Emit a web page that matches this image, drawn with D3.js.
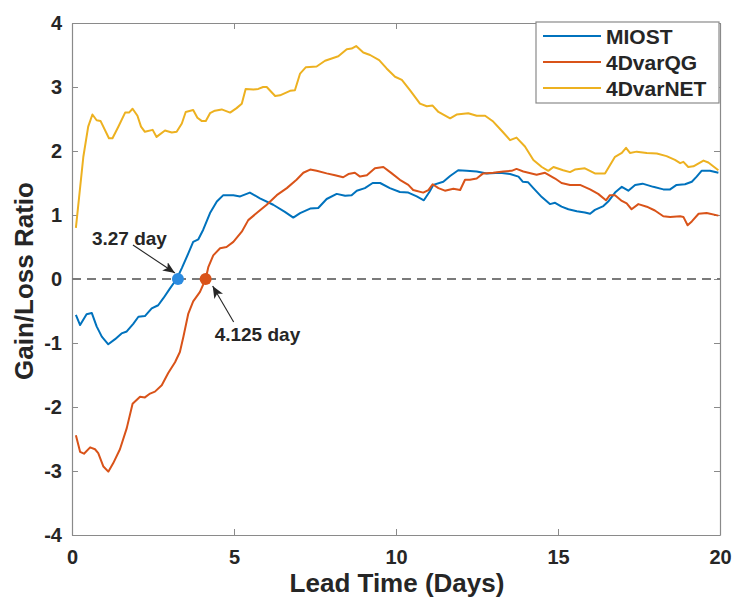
<!DOCTYPE html>
<html>
<head>
<meta charset="utf-8">
<script src="https://cdn.jsdelivr.net/npm/d3@7"></script>
<style>
  body { margin: 0; background: #fff; }
  text { font-family: "Liberation Sans", Arial, Helvetica, sans-serif; font-weight: bold; fill: #262626; }
</style>
</head>
<body>
<div id="chart"></div>
<script>
// axis ticks
const xTicks = [0, 5, 10, 15, 20];
const yTicks = [-4, -3, -2, -1, 0, 1, 2, 3, 4];

// MIOST
const miostDays = [0.12, 0.25, 0.45, 0.61, 0.76, 0.92, 1.12, 1.33, 1.53, 1.69, 1.89, 2.05, 2.25, 2.46, 2.66, 2.82, 3.02, 3.23, 3.39, 3.59, 3.74, 3.9, 4.05, 4.26, 4.47, 4.67, 4.98, 5.19, 5.49, 5.8, 6.21, 6.57, 6.83, 7.04, 7.35, 7.6, 7.86, 8.17, 8.43, 8.63, 8.79, 9.04, 9.28, 9.51, 9.81, 10.12, 10.38, 10.64, 10.86, 11.03, 11.15, 11.46, 11.67, 11.92, 12.18, 12.49, 12.8, 13.21, 13.52, 13.78, 13.91, 14.08, 14.24, 14.5, 14.75, 14.91, 15.11, 15.32, 15.58, 15.83, 15.99, 16.14, 16.4, 16.55, 16.76, 16.97, 17.17, 17.38, 17.61, 17.94, 18.25, 18.46, 18.66, 18.92, 19.13, 19.28, 19.43, 19.69, 19.95];
const miostRatio = [-0.56, -0.72, -0.55, -0.53, -0.74, -0.9, -1.02, -0.94, -0.85, -0.82, -0.7, -0.59, -0.58, -0.46, -0.41, -0.3, -0.15, 0, 0.17, 0.4, 0.58, 0.62, 0.77, 1.03, 1.21, 1.31, 1.31, 1.29, 1.35, 1.26, 1.16, 1.05, 0.96, 1.03, 1.1, 1.11, 1.25, 1.33, 1.3, 1.31, 1.38, 1.42, 1.5, 1.5, 1.42, 1.36, 1.35, 1.29, 1.23, 1.36, 1.47, 1.52, 1.61, 1.7, 1.69, 1.68, 1.65, 1.66, 1.64, 1.6, 1.52, 1.51, 1.42, 1.28, 1.17, 1.19, 1.13, 1.09, 1.06, 1.04, 1.02, 1.08, 1.14, 1.21, 1.35, 1.44, 1.38, 1.47, 1.49, 1.44, 1.4, 1.4, 1.47, 1.48, 1.52, 1.6, 1.69, 1.69, 1.66];

// 4DvarQG
const qgDays = [0.12, 0.25, 0.37, 0.56, 0.71, 0.81, 0.97, 1.12, 1.27, 1.48, 1.69, 1.87, 2.1, 2.25, 2.41, 2.56, 2.77, 2.97, 3.18, 3.33, 3.44, 3.59, 3.74, 3.95, 4.125, 4.21, 4.36, 4.57, 4.77, 4.98, 5.24, 5.44, 5.7, 6.01, 6.32, 6.63, 6.93, 7.14, 7.35, 7.55, 7.86, 8.12, 8.37, 8.53, 8.73, 8.89, 9.1, 9.35, 9.61, 9.87, 10.12, 10.38, 10.53, 10.84, 11.0, 11.13, 11.31, 11.51, 11.77, 11.98, 12.13, 12.28, 12.49, 12.69, 13.0, 13.31, 13.57, 13.72, 13.93, 14.34, 14.6, 14.91, 15.11, 15.37, 15.68, 15.99, 16.24, 16.48, 16.6, 16.76, 16.97, 17.12, 17.27, 17.48, 17.74, 17.99, 18.25, 18.46, 18.77, 18.87, 19.0, 19.13, 19.34, 19.59, 19.95];
const qgRatio = [-2.44, -2.7, -2.73, -2.63, -2.66, -2.72, -2.93, -3.01, -2.88, -2.66, -2.33, -1.95, -1.84, -1.85, -1.79, -1.76, -1.66, -1.47, -1.3, -1.14, -0.9, -0.54, -0.35, -0.2, 0, 0.19, 0.37, 0.48, 0.5, 0.58, 0.74, 0.92, 1.03, 1.16, 1.31, 1.42, 1.55, 1.66, 1.71, 1.69, 1.65, 1.62, 1.59, 1.64, 1.66, 1.6, 1.62, 1.73, 1.75, 1.65, 1.55, 1.47, 1.39, 1.35, 1.39, 1.48, 1.42, 1.38, 1.41, 1.39, 1.55, 1.55, 1.57, 1.65, 1.66, 1.68, 1.69, 1.72, 1.68, 1.63, 1.66, 1.57, 1.5, 1.47, 1.47, 1.4, 1.33, 1.23, 1.31, 1.31, 1.22, 1.18, 1.09, 1.17, 1.13, 1.07, 0.98, 0.97, 0.98, 0.97, 0.84, 0.9, 1.02, 1.03, 0.99];

// 4DvarNET
const netDays = [0.12, 0.35, 0.5, 0.63, 0.76, 0.88, 1.14, 1.25, 1.43, 1.64, 1.76, 1.87, 2.02, 2.13, 2.25, 2.49, 2.61, 2.87, 3.08, 3.23, 3.39, 3.51, 3.74, 3.87, 4.0, 4.13, 4.26, 4.41, 4.62, 4.88, 5.08, 5.24, 5.36, 5.6, 5.75, 5.9, 6.01, 6.27, 6.42, 6.73, 6.88, 7.04, 7.22, 7.55, 7.81, 8.22, 8.48, 8.63, 8.77, 8.99, 9.2, 9.48, 9.71, 9.97, 10.18, 10.43, 10.74, 10.95, 11.13, 11.31, 11.67, 11.87, 12.23, 12.49, 12.75, 13.0, 13.29, 13.52, 13.72, 13.98, 14.24, 14.5, 14.7, 14.86, 15.16, 15.37, 15.52, 15.83, 16.14, 16.45, 16.76, 16.97, 17.1, 17.22, 17.43, 17.74, 18.05, 18.35, 18.61, 18.77, 18.87, 19.02, 19.18, 19.49, 19.64, 19.95];
const netRatio = [0.8, 1.91, 2.38, 2.57, 2.48, 2.47, 2.2, 2.2, 2.38, 2.6, 2.6, 2.66, 2.55, 2.38, 2.3, 2.33, 2.22, 2.32, 2.29, 2.3, 2.43, 2.61, 2.64, 2.52, 2.47, 2.47, 2.59, 2.63, 2.65, 2.6, 2.67, 2.74, 2.97, 2.96, 2.97, 3.0, 3.0, 2.86, 2.87, 2.94, 2.95, 3.21, 3.31, 3.32, 3.41, 3.48, 3.59, 3.6, 3.64, 3.54, 3.5, 3.42, 3.29, 3.16, 3.11, 2.95, 2.74, 2.7, 2.71, 2.61, 2.51, 2.57, 2.59, 2.55, 2.55, 2.46, 2.3, 2.17, 2.21, 2.07, 1.86, 1.75, 1.69, 1.75, 1.7, 1.67, 1.71, 1.73, 1.65, 1.65, 1.91, 1.97, 2.05, 1.97, 1.99, 1.97, 1.96, 1.92, 1.86, 1.81, 1.83, 1.75, 1.76, 1.85, 1.82, 1.7];

const seriesNames = ["MIOST", "4DvarQG", "4DvarNET"];
const seriesColors = ["#0072BD", "#D95319", "#EDB120"];

// zero crossings
const crossDays = [3.27, 4.125];
const crossLabels = ["3.27 day", "4.125 day"];
const crossColors = ["#2b8be0", "#D95319"];

const width = 735, height = 601;
const margin = { top: 23, right: 15, bottom: 66, left: 72 };
const plotW = width - margin.left - margin.right;
const plotH = height - margin.top - margin.bottom;
const axisColor = "#8a8a8a";

const svg = d3.select("#chart").append("svg").attr("width", width).attr("height", height);
const g = svg.append("g").attr("transform", `translate(${margin.left},${margin.top})`);

const x = d3.scaleLinear().domain([0, 20]).range([0, plotW]);
const y = d3.scaleLinear().domain([-4, 4]).range([plotH, 0]);

function styleAxis(sel, labels) {
    sel.select(".domain").attr("stroke", axisColor).attr("stroke-width", 1.2);
    sel.selectAll(".tick line").attr("stroke", axisColor).attr("stroke-width", 1);
    sel.selectAll(".tick text")
        .attr("fill", "#262626")
        .style("font-size", "20px")
        .style("display", labels ? null : "none");
}

// plain hyphen for negatives, like the original
const fmt = d => String(d);

// axes, ticks pointing inward, box on
g.append("g").attr("transform", `translate(0,${plotH})`)
    .call(d3.axisBottom(x).tickValues(xTicks).tickFormat(fmt).tickSizeInner(-6).tickSizeOuter(0).tickPadding(15))
    .call(styleAxis, true);
g.append("g")
    .call(d3.axisTop(x).tickValues(xTicks).tickSizeInner(-6).tickSizeOuter(0))
    .call(styleAxis, false);
g.append("g")
    .call(d3.axisLeft(y).tickValues(yTicks).tickFormat(fmt).tickSizeInner(-6).tickSizeOuter(0).tickPadding(10))
    .call(styleAxis, true);
g.append("g").attr("transform", `translate(${plotW},0)`)
    .call(d3.axisRight(y).tickValues(yTicks).tickSizeInner(-6).tickSizeOuter(0))
    .call(styleAxis, false);

// zero line
g.append("line")
    .attr("x1", 0).attr("x2", plotW)
    .attr("y1", y(0)).attr("y2", y(0))
    .attr("stroke", "#7a7a7a").attr("stroke-width", 1.8)
    .attr("stroke-dasharray", "9,6");

const series = [
    { name: seriesNames[0], color: seriesColors[0], days: miostDays, vals: miostRatio },
    { name: seriesNames[1], color: seriesColors[1], days: qgDays, vals: qgRatio },
    { name: seriesNames[2], color: seriesColors[2], days: netDays, vals: netRatio }
];

const line = d3.line().x(d => x(d[0])).y(d => y(d[1]));

g.selectAll(".series")
    .data(series)
    .join("path")
    .attr("class", "series")
    .attr("fill", "none")
    .attr("stroke", d => d.color)
    .attr("stroke-width", 2)
    .attr("stroke-linejoin", "round")
    .attr("d", d => line(d3.zip(d.days, d.vals)));

// arrow marker
svg.append("defs").append("marker")
    .attr("id", "arrow")
    .attr("viewBox", "0 0 12 10")
    .attr("refX", 12).attr("refY", 5)
    .attr("markerWidth", 12).attr("markerHeight", 10)
    .attr("markerUnits", "userSpaceOnUse")
    .attr("orient", "auto")
    .append("path")
    .attr("d", "M0,0 L12,5 L0,10 L3,5 Z")
    .attr("fill", "#262626");

// annotation arrows (pixel offsets from crossing point)
const arrowFrom = [[-45, -34], [28, 43]];
const arrowTo = [[-3, -6], [7, 7]];
const labelPos = [[-86, -34], [9, 62]];

crossDays.forEach((d, i) => {
    const cx = x(d), cy = y(0);
    g.append("line")
        .attr("x1", cx + arrowFrom[i][0]).attr("y1", cy + arrowFrom[i][1])
        .attr("x2", cx + arrowTo[i][0]).attr("y2", cy + arrowTo[i][1])
        .attr("stroke", "#262626").attr("stroke-width", 1.1)
        .attr("marker-end", "url(#arrow)");
    g.append("text")
        .attr("x", cx + labelPos[i][0]).attr("y", cy + labelPos[i][1])
        .style("font-size", "19px")
        .text(crossLabels[i]);
});

g.selectAll(".cross")
    .data(crossDays)
    .join("circle")
    .attr("class", "cross")
    .attr("cx", d => x(d)).attr("cy", y(0))
    .attr("r", 6)
    .attr("fill", (d, i) => crossColors[i]);

// axis labels
svg.append("text")
    .attr("x", margin.left + plotW / 2 + 1).attr("y", 592)
    .attr("text-anchor", "middle")
    .style("font-size", "26px")
    .text("Lead Time (Days)");

svg.append("text")
    .attr("transform", `translate(33,${margin.top + plotH / 2 + 2}) rotate(-90)`)
    .attr("text-anchor", "middle")
    .style("font-size", "26px")
    .text("Gain/Loss Ratio");

// legend
const legend = svg.append("g").attr("transform", "translate(536,22)");
legend.append("rect")
    .attr("width", 183).attr("height", 81)
    .attr("fill", "#fff").attr("stroke", axisColor).attr("stroke-width", 1.2);
const item = legend.selectAll(".item")
    .data(series)
    .join("g")
    .attr("class", "item")
    .attr("transform", (d, i) => `translate(0,${14 + i * 26})`);
item.append("line")
    .attr("x1", 7).attr("x2", 65)
    .attr("stroke", d => d.color).attr("stroke-width", 2);
item.append("text")
    .attr("x", 70).attr("dy", "0.36em")
    .style("font-size", "21px")
    .text(d => d.name);
</script>
</body>
</html>
